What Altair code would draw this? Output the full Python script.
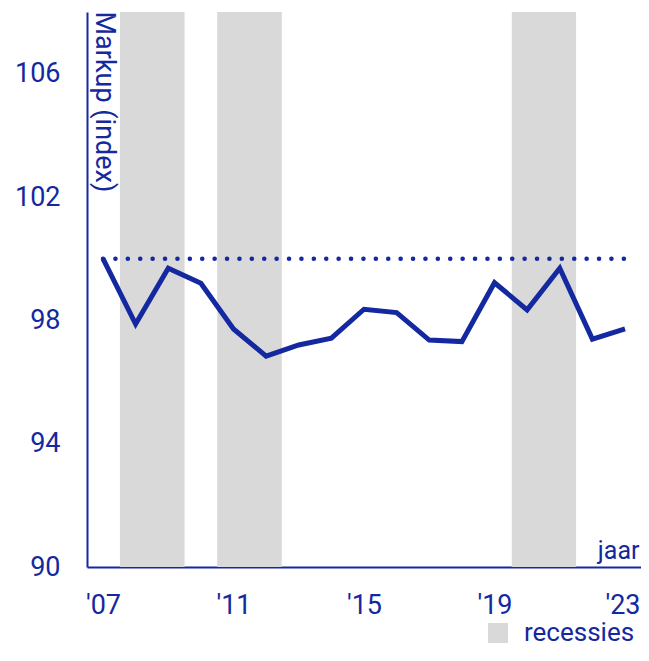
import altair as alt
import pandas as pd

years = list(range(2007, 2024))
markup = [100.0, 97.88, 99.69, 99.2, 97.72, 96.84, 97.2, 97.42, 98.36,
          98.25, 97.36, 97.31, 99.22, 98.34, 99.69, 97.39, 97.72]
rec_start = [2007.52, 2010.5, 2019.53]
rec_end = [2009.5, 2012.48, 2021.5]
ref_years = [2007, 2023]
ref_value = 100
x_ticks = [2007, 2011, 2015, 2019, 2023]
y_ticks = [90, 94, 98, 102, 106]

BLUE = "#1428A0"
GREY = "#d9d9d9"
FONT = "Roboto"
FS = 27

W, H = 554, 555

xscale = alt.Scale(domain=[2006.51, 2023.49], nice=False, zero=False)
yscale = alt.Scale(domain=[90, 108], nice=False, zero=False)

df = pd.DataFrame({"year": years, "markup": markup})
rec = pd.DataFrame({"start": rec_start, "end": rec_end,
                    "lab": ["recessies"] * len(rec_start),
                    "top": [108] * 3, "bot": [90] * 3})
ref = pd.DataFrame({"x1": [ref_years[0]], "x2": [ref_years[1]], "y": [ref_value]})

last_tick = x_ticks[-1]
xaxis = alt.Axis(values=x_ticks, labelExpr="\"'\" + slice(toString(datum.value), 2)",
                 labelAlign=alt.condition(f"datum.value == {last_tick}",
                                          alt.value("right"), alt.value("center")),
                 labelOffset=alt.condition(f"datum.value == {last_tick}",
                                           alt.value(15), alt.value(0)),
                 title="jaar", titleX=W - 2, titleY=-4, titleAlign="right",
                 titleBaseline="bottom", titleAnchor="end", grid=False,
                 ticks=False, labelPadding=25, labelFontSize=FS, titleFontSize=25,
                 titleFontWeight="normal", labelColor=BLUE, titleColor=BLUE,
                 domainColor=BLUE, domainWidth=2, labelFont=FONT, titleFont=FONT)
yaxis = alt.Axis(values=y_ticks, title="Markup (index)", titleAngle=90,
                 titleX=8, titleY=-1, titleAlign="left", titleBaseline="alphabetic",
                 grid=False, ticks=False, labelPadding=27, labelFontSize=FS,
                 titleFontSize=27, titleFontWeight="normal", labelColor=BLUE,
                 titleColor=BLUE, domainColor=BLUE, domainWidth=2,
                 labelFont=FONT, titleFont=FONT)

bands = alt.Chart(rec).mark_rect(opacity=1).encode(
    x=alt.X("start:Q", scale=xscale, axis=xaxis),
    x2="end:Q",
    y=alt.Y("top:Q", scale=yscale, axis=yaxis),
    y2="bot:Q",
    color=alt.Color("lab:N", scale=alt.Scale(range=[GREY]),
                    legend=alt.Legend(orient="none", legendX=398, legendY=608,
                                      title=None, symbolType="square",
                                      symbolSize=400, symbolStrokeWidth=0,
                                      labelFontSize=26, labelFont=FONT,
                                      labelColor=BLUE, labelOffset=13,
                                      padding=0)),
)

dots = alt.Chart(ref).mark_rule(color=BLUE, strokeWidth=4.5, strokeCap="round",
                                strokeDash=[0.1, 12.3]).encode(
    x=alt.X("x1:Q", scale=xscale), x2="x2:Q",
    y=alt.Y("y:Q", scale=yscale),
)

line = alt.Chart(df).mark_line(color=BLUE, strokeWidth=5, strokeJoin="miter").encode(
    x=alt.X("year:Q", scale=xscale),
    y=alt.Y("markup:Q", scale=yscale),
)

chart = alt.layer(bands, dots, line).properties(
    width=W, height=H,
    autosize=alt.AutoSizeParams(type="none"),
    padding={"left": 79, "top": 4, "right": 0, "bottom": 81},
).configure_view(stroke=None)

chart.save("out.html", embed_options={"renderer": "svg", "actions": False})
